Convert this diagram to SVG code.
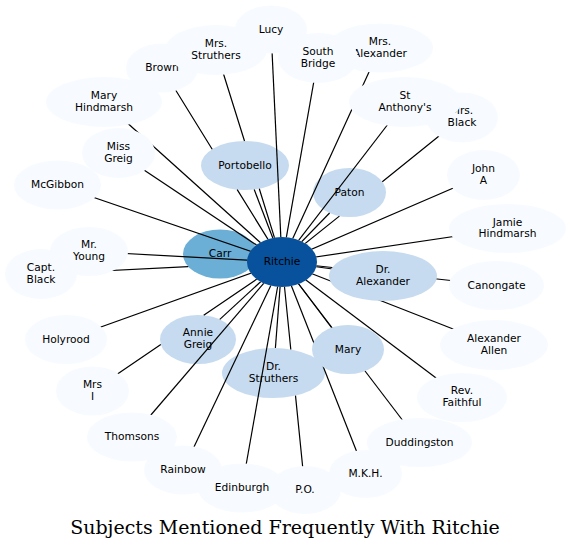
<svg xmlns="http://www.w3.org/2000/svg" width="570" height="550" viewBox="0 0 570 550">
<style>
.n0{fill:#08519c}
.n1{fill:#6baed6}
.n2{fill:#c6dbef}
.n3{fill:#f7fbff}
text{font-family:"DejaVu Sans","Liberation Sans",sans-serif;font-size:10.67px;text-anchor:middle;fill:#000}
.edge{stroke:#000;stroke-width:1.2;fill:none}
.title{font-family:"DejaVu Serif","Liberation Serif",serif;font-size:19px}
</style>
<defs>
<mask id="edge-mask" maskUnits="userSpaceOnUse" x="0" y="0" width="570" height="550">
<rect x="0" y="0" width="570" height="550" fill="#fff"/>
<g fill="#000">
<ellipse cx="282" cy="262" rx="35" ry="25"/>
<ellipse cx="383" cy="276" rx="54" ry="25"/>
<ellipse cx="348" cy="349.5" rx="36" ry="24.5"/>
<ellipse cx="271" cy="29.5" rx="36" ry="24"/>
<ellipse cx="162" cy="68" rx="36" ry="24.5"/>
<ellipse cx="216" cy="50" rx="51" ry="25"/>
<ellipse cx="318" cy="58" rx="40" ry="25"/>
<ellipse cx="380" cy="48" rx="53" ry="24.5"/>
<ellipse cx="104" cy="102" rx="58" ry="25"/>
<ellipse cx="405" cy="102" rx="56" ry="25"/>
<ellipse cx="462" cy="117.5" rx="36" ry="25"/>
<ellipse cx="118.5" cy="153" rx="36.5" ry="25"/>
<ellipse cx="57.5" cy="185" rx="43.5" ry="24.5"/>
<ellipse cx="483.5" cy="175" rx="36.5" ry="25"/>
<ellipse cx="507.5" cy="228.5" rx="58.5" ry="24.5"/>
<ellipse cx="41" cy="274" rx="36" ry="25"/>
<ellipse cx="89" cy="251.5" rx="39" ry="24.5"/>
<ellipse cx="496.5" cy="285.5" rx="47.5" ry="24.5"/>
<ellipse cx="66" cy="339.5" rx="41" ry="24.5"/>
<ellipse cx="494" cy="345" rx="54" ry="25"/>
<ellipse cx="92.5" cy="391" rx="36.5" ry="24.5"/>
<ellipse cx="462" cy="397.5" rx="45" ry="24.5"/>
<ellipse cx="132" cy="437" rx="45" ry="24.5"/>
<ellipse cx="419.5" cy="442.5" rx="52.5" ry="24.5"/>
<ellipse cx="242" cy="488" rx="44" ry="24.5"/>
<ellipse cx="183" cy="470" rx="39" ry="24.5"/>
<ellipse cx="365.5" cy="474" rx="36.5" ry="24"/>
<ellipse cx="305" cy="490" rx="36" ry="24"/>
</g>
</mask>
</defs>
<rect x="0" y="0" width="570" height="550" fill="#fff"/>
<g id="nodes">
<g id="lucy"><ellipse class="n3" cx="271" cy="29.5" rx="36" ry="24"/><text x="271" y="32.5">Lucy</text></g>
<g id="brown"><ellipse class="n3" cx="162" cy="68" rx="36" ry="24.5"/><text x="162" y="71">Brown</text></g>
<g id="mrs-struthers"><ellipse class="n3" cx="216" cy="50" rx="51" ry="25"/><text x="216" y="46.8">Mrs.</text><text x="216" y="58.6">Struthers</text></g>
<g id="mrs-alexander"><ellipse class="n3" cx="380" cy="48" rx="53" ry="24.5"/><text x="380" y="44.8">Mrs.</text><text x="380" y="56.6">Alexander</text></g>
<g id="south-bridge"><ellipse class="n3" cx="318" cy="58" rx="40" ry="25"/><text x="318" y="54.8">South</text><text x="318" y="66.6">Bridge</text></g>
<g id="mary-hindmarsh"><ellipse class="n3" cx="104" cy="102" rx="58" ry="25"/><text x="104" y="98.8">Mary</text><text x="104" y="110.6">Hindmarsh</text></g>
<g id="mrs-black"><ellipse class="n3" cx="462" cy="117.5" rx="36" ry="25"/><text x="462" y="114.3">Mrs.</text><text x="462" y="126.1">Black</text></g>
<g id="st-anthonys"><ellipse class="n3" cx="405" cy="102" rx="56" ry="25"/><text x="405" y="98.8">St</text><text x="405" y="110.6">Anthony's</text></g>
<g id="miss-greig"><ellipse class="n3" cx="118.5" cy="153" rx="36.5" ry="25"/><text x="118.5" y="149.8">Miss</text><text x="118.5" y="161.6">Greig</text></g>
<g id="mcgibbon"><ellipse class="n3" cx="57.5" cy="185" rx="43.5" ry="24.5"/><text x="57.5" y="188">McGibbon</text></g>
<g id="john-a"><ellipse class="n3" cx="483.5" cy="175" rx="36.5" ry="25"/><text x="483.5" y="171.8">John</text><text x="483.5" y="183.6">A</text></g>
<g id="jamie-hindmarsh"><ellipse class="n3" cx="507.5" cy="228.5" rx="58.5" ry="24.5"/><text x="507.5" y="225.5">Jamie</text><text x="507.5" y="237.3">Hindmarsh</text></g>
<g id="capt-black"><ellipse class="n3" cx="41" cy="274" rx="36" ry="25"/><text x="41" y="270.8">Capt.</text><text x="41" y="282.6">Black</text></g>
<g id="mr-young"><ellipse class="n3" cx="89" cy="251.5" rx="39" ry="24.5"/><text x="89" y="248.3">Mr.</text><text x="89" y="260.1">Young</text></g>
<g id="canongate"><ellipse class="n3" cx="496.5" cy="285.5" rx="47.5" ry="24.5"/><text x="496.5" y="288.5">Canongate</text></g>
<g id="holyrood"><ellipse class="n3" cx="66" cy="339.5" rx="41" ry="24.5"/><text x="66" y="342.5">Holyrood</text></g>
<g id="alexander-allen"><ellipse class="n3" cx="494" cy="345" rx="54" ry="25"/><text x="494" y="341.8">Alexander</text><text x="494" y="353.6">Allen</text></g>
<g id="mrs-i"><ellipse class="n3" cx="92.5" cy="391" rx="36.5" ry="24.5"/><text x="92.5" y="387.8">Mrs</text><text x="92.5" y="399.6">I</text></g>
<g id="rev-faithful"><ellipse class="n3" cx="462" cy="397.5" rx="45" ry="24.5"/><text x="462" y="394.3">Rev.</text><text x="462" y="406.1">Faithful</text></g>
<g id="thomsons"><ellipse class="n3" cx="132" cy="437" rx="45" ry="24.5"/><text x="132" y="440">Thomsons</text></g>
<g id="duddingston"><ellipse class="n3" cx="419.5" cy="442.5" rx="52.5" ry="24.5"/><text x="419.5" y="445.5">Duddingston</text></g>
<g id="edinburgh"><ellipse class="n3" cx="242" cy="488" rx="44" ry="24.5"/><text x="242" y="491">Edinburgh</text></g>
<g id="rainbow"><ellipse class="n3" cx="183" cy="470" rx="39" ry="24.5"/><text x="183" y="473">Rainbow</text></g>
<g id="m-k-h"><ellipse class="n3" cx="365.5" cy="474" rx="36.5" ry="24"/><text x="365.5" y="477">M.K.H.</text></g>
<g id="p-o"><ellipse class="n3" cx="305" cy="490" rx="36" ry="24"/><text x="305" y="493">P.O.</text></g>
<g id="portobello"><ellipse class="n2" cx="245" cy="165.5" rx="44" ry="24.5"/><text x="245" y="168.5">Portobello</text></g>
<g id="paton"><ellipse class="n2" cx="349.5" cy="192.5" rx="36.5" ry="24.5"/><text x="349.5" y="195.5">Paton</text></g>
<g id="dr-alexander"><ellipse class="n2" cx="383" cy="276" rx="54" ry="25"/><text x="383" y="272.8">Dr.</text><text x="383" y="284.6">Alexander</text></g>
<g id="mary"><ellipse class="n2" cx="348" cy="349.5" rx="36" ry="24.5"/><text x="348" y="352.5">Mary</text></g>
<g id="dr-struthers"><ellipse class="n2" cx="273.5" cy="373" rx="51.5" ry="25"/><text x="273.5" y="369.8">Dr.</text><text x="273.5" y="381.6">Struthers</text></g>
<g id="annie-greig"><ellipse class="n2" cx="198" cy="339.5" rx="38" ry="24.5"/><text x="198" y="336.3">Annie</text><text x="198" y="348.1">Greig</text></g>
<g id="carr"><ellipse class="n1" cx="220" cy="254" rx="37" ry="24.5"/><text x="220" y="257">Carr</text></g>
<g id="ritchie"><ellipse class="n0" cx="282" cy="262" rx="35" ry="25"/><text x="282" y="265">Ritchie</text></g>
</g>
<g id="connectors" class="edge" mask="url(#edge-mask)">
<path d="M271,29.5 L282,262"/>
<path d="M216,50 L244.5,141 M259.3,188.7 L282,262"/>
<path d="M162,68 L212.2,149.2 M237.2,189.6 L282,262"/>
<path d="M318,58 L282,262"/>
<path d="M380,48 L282,262"/>
<path d="M405,102 L282,262"/>
<path d="M462,117.5 L382.3,181.7 M339.4,216.1 L282,262"/>
<path d="M329.6,213 L282,262"/>
<path d="M483.5,175 L282,262"/>
<path d="M507.5,228.5 L282,262"/>
<path d="M383,276 L282,262"/>
<path d="M496.5,285.5 L282,262"/>
<path d="M494,345 L282,262"/>
<path d="M462,397.5 L282,262"/>
<path d="M348,349.5 L282,262"/>
<path d="M419.5,442.5 L282,262"/>
<path d="M365.5,474 L282,262"/>
<path d="M305,490 L295.5,395.6 M290.8,349.5 L282,262"/>
<path d="M275.4,348 L282,262"/>
<path d="M242,488 L282,262"/>
<path d="M183,470 L282,262"/>
<path d="M132,437 L282,262"/>
<path d="M219.8,319.4 L282,262"/>
<path d="M92.5,391 L160.8,344.5 M203.7,315.3 L282,262"/>
<path d="M66,339.5 L282,262"/>
<path d="M41,274 L188.3,266.7"/>
<path d="M89,251.5 L282,262"/>
<path d="M57.5,185 L282,262"/>
<path d="M118.5,153 L282,262"/>
<path d="M104,102 L282,262"/>
<path d="M254.2,189.5 L282,262"/>
</g>
<text class="title" x="285" y="534">Subjects Mentioned Frequently With Ritchie</text>
</svg>
